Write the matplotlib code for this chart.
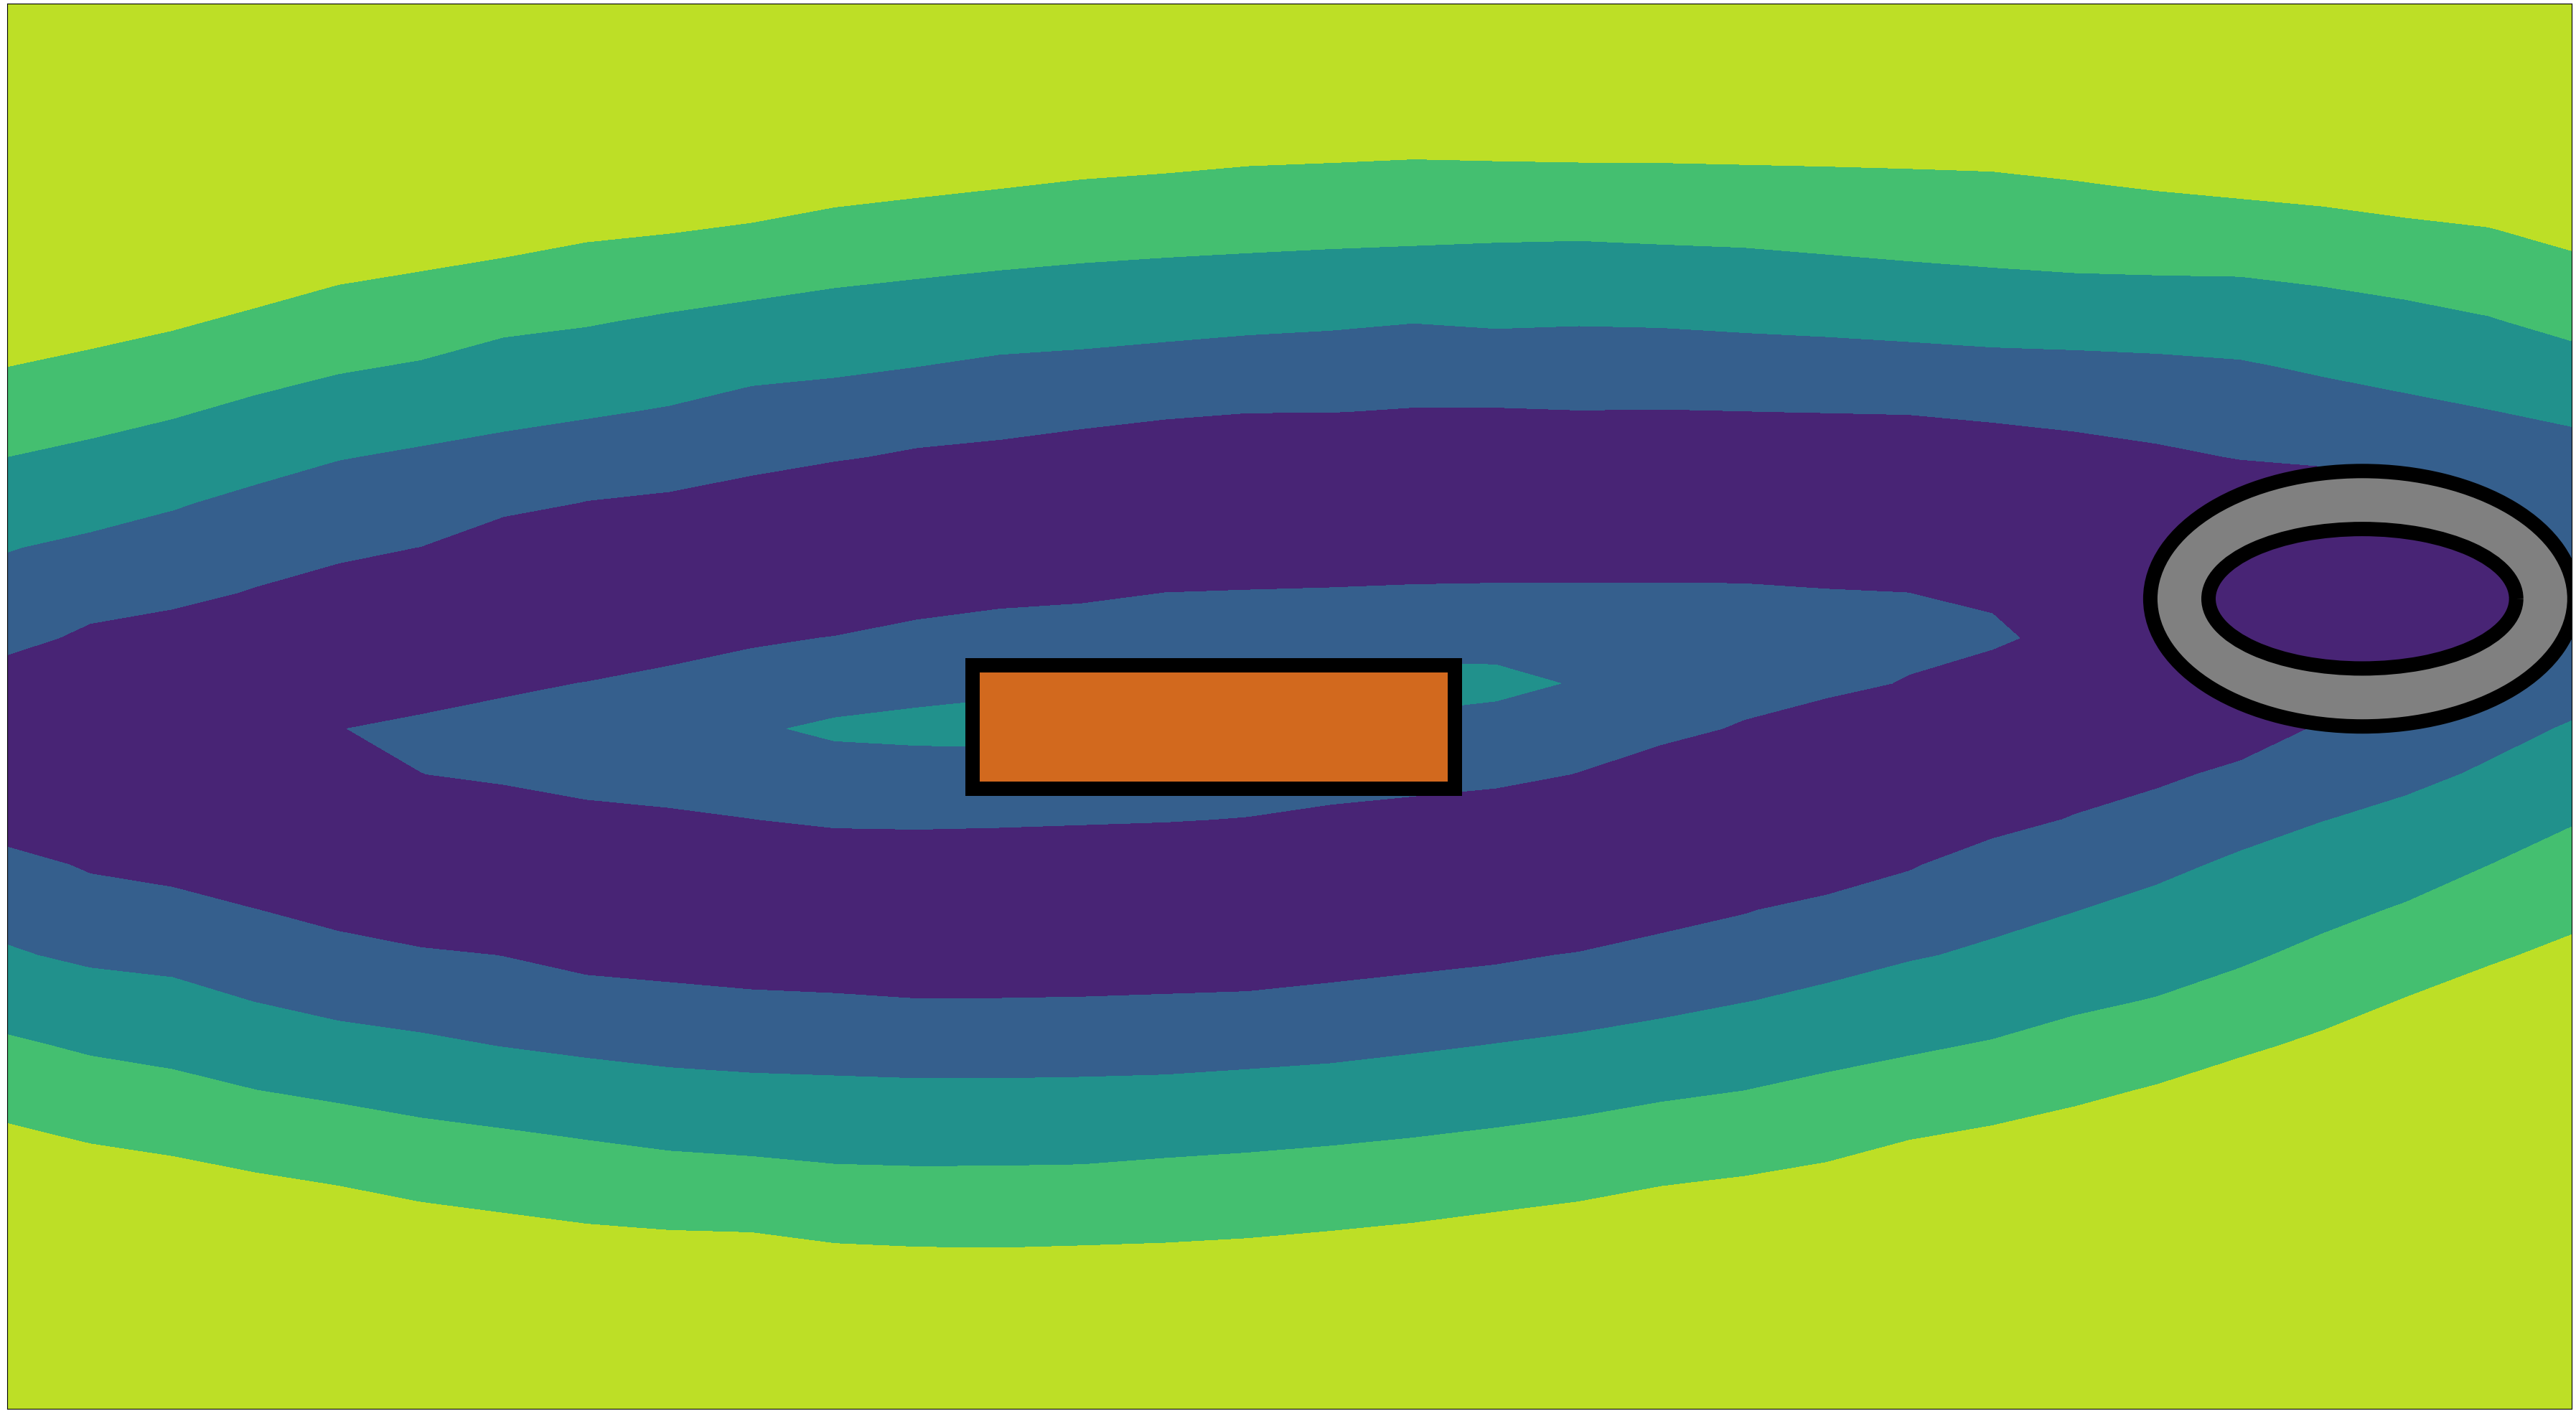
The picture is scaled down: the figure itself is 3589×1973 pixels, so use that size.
import numpy as np
import matplotlib
matplotlib.use("Agg")
import matplotlib.pyplot as plt
from matplotlib.patches import Rectangle, Annulus

nan = np.nan

# ---------------- data ----------------
# 32 x 32 sampling grid of the field
x_grid = np.linspace(0.0, 2.0, 32)
y_grid = np.linspace(0.0, 1.1, 32)

# where each band boundary crosses every grid column,
# in grid-row units counted from the top edge (nan = no crossing)
upper_08 = [8.01, 7.62, 7.21, 6.71, 6.20, 5.90, 5.60, 5.26, 5.07, 4.83,
            4.49, 4.28, 4.08, 3.87, 3.74, 3.58, 3.51, 3.43, 3.47, 3.50,
            3.51, 3.55, 3.59, 3.64, 3.70, 3.90, 4.13, 4.30, 4.47, 4.72,
            4.93, 5.45]
upper_06 = [10.00, 9.60, 9.16, 8.63, 8.17, 7.86, 7.36, 7.13, 6.81, 6.54,
            6.27, 6.07, 5.88, 5.72, 5.60, 5.50, 5.41, 5.34, 5.27, 5.23,
            5.31, 5.38, 5.53, 5.68, 5.82, 5.94, 5.99, 6.02, 6.24, 6.53,
            6.89, 7.44]
upper_04 = [12.11, 11.66, 11.18, 10.61, 10.08, 9.76, 9.44, 9.16, 8.87, 8.43,
            8.25, 8.01, 7.74, 7.62, 7.46, 7.31, 7.21, 7.05, 7.17, 7.11,
            7.15, 7.26, 7.35, 7.46, 7.58, 7.64, 7.72, 7.85, 8.23, 8.59,
            8.95, 9.33]
upper_02 = [14.37, 13.68, 13.36, 12.87, 12.35, 11.98, 11.32, 10.97, 10.77, 10.41,
            10.10, 9.80, 9.62, 9.38, 9.17, 9.03, 9.02, 8.91, 8.91, 8.97,
            8.95, 8.99, 9.03, 9.07, 9.24, 9.44, 9.71, 10.06, 10.21, 10.60,
            11.30, nan]
island_top = [nan] * 5 + [15.69, 15.32, 14.97, 14.62, 14.23, 13.96, 13.60, 13.36,
                          13.24, 13.00, 12.94, 12.89, 12.82, 12.79, 12.78, 12.78,
                          12.80, 12.92, 13.01, 13.46] + [nan] * 7
island_bottom = [nan] * 5 + [16.95, 17.23, 17.56, 17.74, 17.98, 18.19, 18.22, 18.18,
                             18.12, 18.06, 17.94, 17.67, 17.49, 17.31, 16.95, 16.35,
                             15.80, 15.32, 14.80, 14.25] + [nan] * 7
core_top = [nan] * 10 + [15.76, 15.54, 15.35, 15.20, 15.05, 14.90, 14.75,
                         14.54, 14.59] + [nan] * 13
core_bottom = [nan] * 10 + [16.27, 16.37, 16.40, 16.30, 16.15, 16.00, 15.85,
                            15.60, 15.39] + [nan] * 13
peak_row = [nan] * 5 + [16.30, 16.30, 16.30, 16.20, 16.00] + [nan] * 9 + \
           [15.00, 14.60, 14.30, 14.10, 13.90, 13.85] + [nan] * 7
peak_value = [nan] * 5 + [0.25, 0.28, 0.31, 0.34, 0.36] + [nan] * 9 + \
             [0.36, 0.34, 0.31, 0.28, 0.25, 0.24] + [nan] * 7
lower_02 = [18.61, 19.20, 19.50, 19.98, 20.47, 20.83, 21.03, 21.44, 21.60, 21.76,
            21.84, 21.96, 21.95, 21.92, 21.86, 21.80, 21.61, 21.41, 21.21, 20.93,
            20.52, 20.10, 19.67, 19.14, 18.43, 17.89, 17.32, 16.71, 15.85, 15.20,
            14.60, nan]
lower_04 = [20.77, 21.28, 21.49, 22.04, 22.45, 22.71, 23.03, 23.27, 23.48, 23.60,
            23.66, 23.72, 23.72, 23.69, 23.64, 23.52, 23.39, 23.18, 22.95, 22.71,
            22.40, 22.05, 21.62, 21.14, 20.64, 20.05, 19.44, 18.70, 18.05, 17.48,
            16.71, 15.83]
lower_06 = [22.75, 23.22, 23.52, 23.97, 24.27, 24.59, 24.83, 25.08, 25.32, 25.44,
            25.61, 25.66, 25.65, 25.62, 25.48, 25.36, 25.21, 25.03, 24.81, 24.56,
            24.24, 23.99, 23.59, 23.22, 22.86, 22.33, 21.91, 21.28, 20.52, 19.83,
            19.02, 18.17]
lower_08 = [24.71, 25.16, 25.44, 25.80, 26.09, 26.45, 26.69, 26.93, 27.07, 27.12,
            27.36, 27.44, 27.46, 27.41, 27.35, 27.25, 27.09, 26.91, 26.67, 26.44,
            26.10, 25.88, 25.57, 25.08, 24.76, 24.34, 23.85, 23.26, 22.66, 21.93,
            21.24, 20.55]
trough_value = -0.1      # field minimum inside the lowest band
blue_floor = 0.27        # field minimum where the lowest band is absent

# pointed ends of the inner islands: (level, grid row, left column,
# fraction of the way to the next column, side that holds the island)
tip_level = [0.2, 0.4, 0.4, 0.2]
tip_row = [16, 16, 15, 14]
tip_col = [4, 9, 18, 24]
tip_frac = [0.11, 0.43, 0.78, 0.33]
tip_side = ["right", "right", "left", "left"]

band_levels = [-5.0, 0.2, 0.4, 0.6, 0.8, 5.0]
band_colors = [plt.cm.viridis(v) for v in (0.1, 0.3, 0.5, 0.7, 0.9)]

# obstacles
rect_xy, rect_w, rect_h = (0.753, 0.485), 0.376, 0.097
ring_xy, ring_r, ring_width = (1.837, 0.634), (0.1654, 0.1000), 0.0454


# ---------------- build the field on the grid ----------------
def column_knots(i):
    hard, soft = 100.0, 4.0
    pts = [(upper_08[i], 0.8, hard), (upper_06[i], 0.6, hard), (upper_04[i], 0.4, hard)]
    if np.isnan(upper_02[i]):
        pts.append(((upper_04[i] + lower_04[i]) / 2.0, blue_floor, soft))
    else:
        pts.append((upper_02[i], 0.2, hard))
        if not np.isnan(island_top[i]):
            pts.append((island_top[i], 0.2, hard))
            if not np.isnan(core_top[i]):
                pts += [(core_top[i], 0.4, hard), (core_bottom[i], 0.4, hard)]
            elif not np.isnan(peak_value[i]):
                pts.append((peak_row[i], peak_value[i], soft))
            pts.append((island_bottom[i], 0.2, hard))
        pts.append((lower_02[i], 0.2, hard))
    pts += [(lower_04[i], 0.4, hard), (lower_06[i], 0.6, hard), (lower_08[i], 0.8, hard)]
    out = [pts[0]]
    for a, b in zip(pts[:-1], pts[1:]):
        if a[1] == 0.2 and b[1] == 0.2 and a[2] == hard and b[2] == hard:
            out.append(((a[0] + b[0]) / 2.0, trough_value, soft))
        out.append(b)
    return out


def solve_column(i, n):
    rows_a, rhs = [], []
    for c, v, w in column_knots(i):
        k = min(int(np.floor(c)), n - 2)
        f = c - k
        r = np.zeros(n)
        r[k], r[k + 1] = (1 - f) * w, f * w
        rows_a.append(r)
        rhs.append(v * w)
    for k in range(1, n - 1):
        r = np.zeros(n)
        r[k - 1], r[k], r[k + 1] = 1.0, -2.0, 1.0
        rows_a.append(r)
        rhs.append(0.0)
    return np.linalg.lstsq(np.array(rows_a), np.array(rhs), rcond=None)[0]


n_rows, n_cols = len(y_grid), len(x_grid)
Z = np.column_stack([solve_column(i, n_rows) for i in range(n_cols)])  # row 0 = top

for L, r, c, f, side in zip(tip_level, tip_row, tip_col, tip_frac, tip_side):
    if side == "right":
        Z[r, c] = (L - f * Z[r, c + 1]) / (1 - f)
    else:
        Z[r, c + 1] = Z[r, c] + (L - Z[r, c]) / f

Z_up = Z[::-1]

# ---------------- draw ----------------
W, H = 3589, 1974
fig = plt.figure(figsize=(W / 100, H / 100), dpi=100)
ax = fig.add_axes([10 / W, 10.5 / H, 3572.5 / W, 1957.5 / H])
ax.contourf(x_grid, y_grid, Z_up, levels=band_levels, colors=band_colors)

lw = 14.4
ax.add_patch(Rectangle(rect_xy, rect_w, rect_h, facecolor="chocolate",
                       edgecolor="black", linewidth=lw, zorder=3))
ax.add_patch(Annulus(ring_xy, ring_r, ring_width, facecolor="gray",
                     edgecolor="black", linewidth=lw, zorder=3))

ax.set_xlim(x_grid[0], x_grid[-1])
ax.set_ylim(y_grid[0], y_grid[-1])
ax.set_xticks([])
ax.set_yticks([])

fig.savefig("out.png", dpi=100)
